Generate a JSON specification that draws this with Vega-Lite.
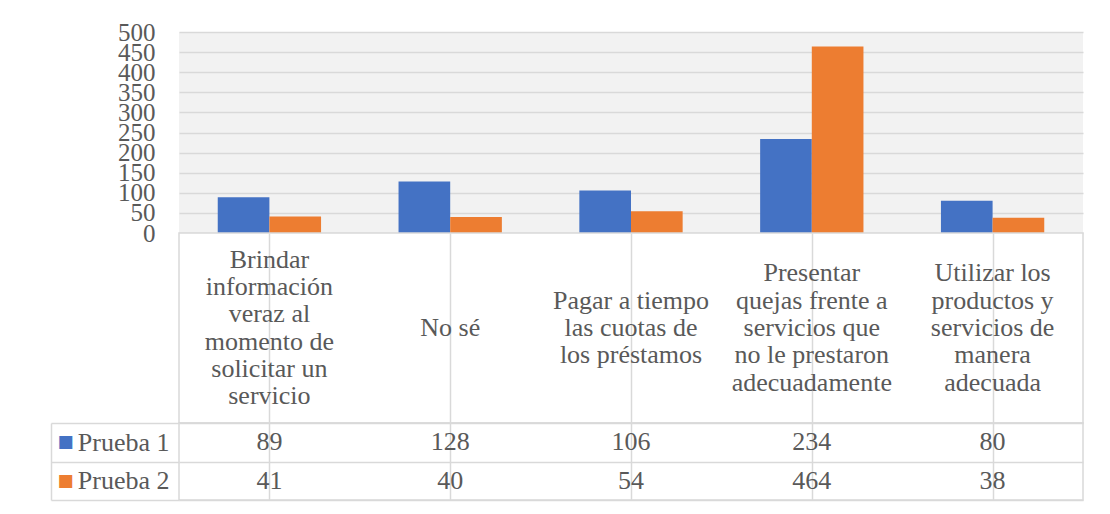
{
  "$schema": "https://vega.github.io/schema/vega-lite/v6.json",
  "padding": {"left": 49, "top": 20, "right": 20, "bottom": 12},
  "background": "white",
  "config": {"font": "Liberation Serif", "axis": {"labelFont": "Liberation Serif"}, "text": {"font": "Liberation Serif"}},
  "datasets": {
    "valores": [
      {"categoria": "Brindar información veraz al momento de solicitar un servicio", "serie": "Prueba 1", "valor": 89},
      {"categoria": "Brindar información veraz al momento de solicitar un servicio", "serie": "Prueba 2", "valor": 41},
      {"categoria": "No sé", "serie": "Prueba 1", "valor": 128},
      {"categoria": "No sé", "serie": "Prueba 2", "valor": 40},
      {"categoria": "Pagar a tiempo las cuotas de los préstamos", "serie": "Prueba 1", "valor": 106},
      {"categoria": "Pagar a tiempo las cuotas de los préstamos", "serie": "Prueba 2", "valor": 54},
      {"categoria": "Presentar quejas frente a servicios que no le prestaron adecuadamente", "serie": "Prueba 1", "valor": 234},
      {"categoria": "Presentar quejas frente a servicios que no le prestaron adecuadamente", "serie": "Prueba 2", "valor": 464},
      {"categoria": "Utilizar los productos y servicios de manera adecuada", "serie": "Prueba 1", "valor": 80},
      {"categoria": "Utilizar los productos y servicios de manera adecuada", "serie": "Prueba 2", "valor": 38}
    ],
    "categorias": [
      {"categoria": "Brindar información veraz al momento de solicitar un servicio", "etiqueta": "Brindar\ninformación\nveraz al\nmomento de\nsolicitar un\nservicio"},
      {"categoria": "No sé", "etiqueta": "No sé"},
      {"categoria": "Pagar a tiempo las cuotas de los préstamos", "etiqueta": "Pagar a tiempo\nlas cuotas de\nlos préstamos"},
      {"categoria": "Presentar quejas frente a servicios que no le prestaron adecuadamente", "etiqueta": "Presentar\nquejas frente a\nservicios que\nno le prestaron\nadecuadamente"},
      {"categoria": "Utilizar los productos y servicios de manera adecuada", "etiqueta": "Utilizar los\nproductos y\nservicios de\nmanera\nadecuada"}
    ]
  },
  "spacing": 0,
  "bounds": "flush",
  "vconcat": [
    {
      "width": 904,
      "height": 201,
      "data": {"name": "valores"},
      "view": {"fill": "#f2f2f2", "stroke": null},
      "mark": {"type": "bar"},
      "encoding": {
        "x": {"field": "categoria", "type": "nominal",
          "sort": ["Brindar información veraz al momento de solicitar un servicio", "No sé", "Pagar a tiempo las cuotas de los préstamos", "Presentar quejas frente a servicios que no le prestaron adecuadamente", "Utilizar los productos y servicios de manera adecuada"],
          "scale": {"paddingInner": 0, "paddingOuter": 0}, "axis": null},
        "xOffset": {"field": "serie", "type": "nominal", "sort": ["Prueba 1", "Prueba 2"], "scale": {"paddingInner": 0, "paddingOuter": 0.75}},
        "y": {
          "field": "valor", "type": "quantitative",
          "scale": {"domain": [0, 500], "nice": false},
          "axis": {
            "title": null, "values": [0, 50, 100, 150, 200, 250, 300, 350, 400, 450, 500],
            "domain": false, "ticks": false, "labelPadding": 24, "labelFontSize": 25,
            "labelColor": "#595959", "labelOverlap": false, "labelFont": "Liberation Serif",
            "gridColor": "#d9d9d9", "gridWidth": 1.5
          }
        },
        "color": {"field": "serie", "type": "nominal", "scale": {"domain": ["Prueba 1", "Prueba 2"], "range": ["#4472C4", "#ED7D31"]}, "legend": null}
      }
    },
    {
      "width": 904,
      "height": 190,
      "data": {"name": "categorias"},
      "view": {"fill": "white", "stroke": "#d9d9d9", "strokeWidth": 1.5},
      "encoding": {
        "x": {"field": "categoria", "type": "nominal",
          "sort": ["Brindar información veraz al momento de solicitar un servicio", "No sé", "Pagar a tiempo las cuotas de los préstamos", "Presentar quejas frente a servicios que no le prestaron adecuadamente", "Utilizar los productos y servicios de manera adecuada"],
          "scale": {"paddingInner": 0, "paddingOuter": 0},
          "axis": {"title": null, "labels": false, "ticks": false, "domain": false, "grid": true, "bandPosition": 0, "gridColor": "#d9d9d9", "gridWidth": 1.5}},
        "text": {"field": "etiqueta"}
      },
      "layer": [
        {
          "transform": [{"filter": {"field": "categoria", "equal": "No sé"}}],
          "mark": {"type": "text", "lineBreak": "\n", "fontSize": 26, "lineHeight": 27.3, "color": "#595959", "font": "Liberation Serif", "align": "center", "baseline": "middle", "dy": 0}
        },
        {
          "transform": [{"filter": {"field": "categoria", "equal": "Pagar a tiempo las cuotas de los préstamos"}}],
          "mark": {"type": "text", "lineBreak": "\n", "fontSize": 26, "lineHeight": 27.3, "color": "#595959", "font": "Liberation Serif", "align": "center", "baseline": "middle", "dy": -27.3}
        },
        {
          "transform": [{"filter": {"field": "categoria", "oneOf": ["Presentar quejas frente a servicios que no le prestaron adecuadamente", "Utilizar los productos y servicios de manera adecuada"]}}],
          "mark": {"type": "text", "lineBreak": "\n", "fontSize": 26, "lineHeight": 27.3, "color": "#595959", "font": "Liberation Serif", "align": "center", "baseline": "middle", "dy": -54.6}
        },
        {
          "transform": [{"filter": {"field": "categoria", "equal": "Brindar información veraz al momento de solicitar un servicio"}}],
          "mark": {"type": "text", "lineBreak": "\n", "fontSize": 26, "lineHeight": 27.3, "color": "#595959", "font": "Liberation Serif", "align": "center", "baseline": "middle", "dy": -68.2}
        }
      ]
    },
    {
      "width": 904,
      "height": 77,
      "data": {"name": "valores"},
      "view": {"fill": "white", "stroke": "#d9d9d9", "strokeWidth": 1.5},
      "encoding": {
        "x": {"field": "categoria", "type": "nominal",
          "sort": ["Brindar información veraz al momento de solicitar un servicio", "No sé", "Pagar a tiempo las cuotas de los préstamos", "Presentar quejas frente a servicios que no le prestaron adecuadamente", "Utilizar los productos y servicios de manera adecuada"],
          "scale": {"paddingInner": 0, "paddingOuter": 0},
          "axis": {"title": null, "labels": false, "ticks": false, "domain": false, "grid": true, "bandPosition": 0, "gridColor": "#d9d9d9", "gridWidth": 1.5}}
      },
      "layer": [
        {
          "mark": {"type": "text", "fontSize": 26, "color": "#595959", "font": "Liberation Serif", "align": "center", "baseline": "middle"},
          "encoding": {
            "text": {"field": "valor"},
            "y": {"field": "serie", "type": "nominal", "scale": {"domain": ["Prueba 1", "Prueba 2"], "paddingInner": 0, "paddingOuter": 0},
              "axis": {"orient": "left", "title": null, "domain": false, "ticks": true, "tickSize": 128, "tickColor": "#d9d9d9", "tickWidth": 1.5,
                "tickBand": "extent", "grid": true, "gridColor": "#d9d9d9", "gridWidth": 1.5,
                "labelFontSize": 26, "labelColor": "#595959", "labelFont": "Liberation Serif", "labelAlign": "right", "labelBaseline": "middle",
                "labelPadding": -118, "labelOffset": 0}}
          }
        },
        {
          "mark": {"type": "text", "text": ""},
          "encoding": {
            "y": {"field": "serie", "type": "nominal", "scale": {"domain": ["Prueba 1", "Prueba 2"], "paddingInner": 0, "paddingOuter": 0},
              "axis": {"orient": "left", "title": null, "domain": false, "ticks": false, "grid": false,
                "labelExpr": "'■'", "labelFont": "DejaVu Sans", "labelFontSize": 17,
                "labelColor": {"condition": {"test": "datum.value === 'Prueba 1'", "value": "#4472C4"}, "value": "#ED7D31"},
                "labelAlign": "left", "labelBaseline": "middle", "labelPadding": 122, "labelOffset": 0}}
          }
        },
        {
          "mark": {"type": "text", "text": ""},
          "encoding": {
            "y": {"field": "serie", "type": "nominal", "scale": {"domain": ["Prueba 1", "Prueba 2"], "paddingInner": 0, "paddingOuter": 0},
              "axis": {"orient": "left", "title": null, "offset": 128, "domain": true, "domainColor": "#d9d9d9", "domainWidth": 1.5, "ticks": false, "labels": false}}
          }
        }
      ],
      "resolve": {"axis": {"y": "independent"}}
    }
  ]
}
